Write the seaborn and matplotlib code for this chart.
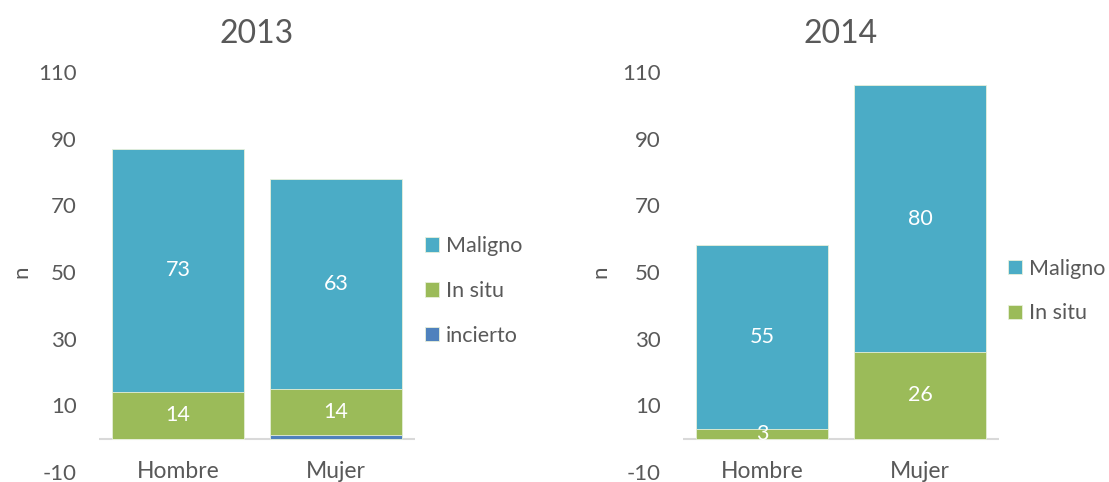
import matplotlib.pyplot as plt
import pandas as pd
import seaborn as sns

sexos = ["Hombre", "Mujer"]

incierto_2013 = [0, 1]
in_situ_2013 = [14, 14]
maligno_2013 = [73, 63]

in_situ_2014 = [3, 26]
maligno_2014 = [55, 80]

yticks = [-10, 10, 30, 50, 70, 90, 110]

COLORS = {"Maligno": "#4BACC6", "In situ": "#9BBB59", "incierto": "#4F81BD"}
TEXT = "#595959"

sns.set_theme(style="white")
plt.rcParams["font.family"] = ["Lato", "DejaVu Sans"]
plt.rcParams["axes.unicode_minus"] = False


def stacked(ax, title, series, legend_pos, ylabel_x):
    # series: list of (name, values) from bottom to top
    df = pd.DataFrame({"sexo": sexos})
    cum = [0] * len(sexos)
    bottoms = {}
    for name, vals in series:
        bottoms[name] = list(cum)
        cum = [c + v for c, v in zip(cum, vals)]
        df[name] = cum

    # draw the tallest stack first so lower segments sit on top
    for name, vals in reversed(series):
        sns.barplot(data=df, x="sexo", y=name, color=COLORS[name],
                    width=0.835, saturation=1, ax=ax, label=name,
                    edgecolor="#E8F0DA", linewidth=0.6)

    for name, vals in series:
        if name == "incierto":
            continue
        for i, v in enumerate(vals):
            ax.text(i, bottoms[name][i] + v / 2, str(v), ha="center", va="center",
                    color="white", fontsize=15.5)

    ax.set_ylim(-10, 110)
    ax.set_xlim(-0.5, 1.5)
    ax.set_yticks(yticks)
    ax.axhline(0, color="#D9D9D9", lw=1.5, zorder=0.5)
    for s in ax.spines.values():
        s.set_visible(False)
    ax.spines["bottom"].set_position(("data", 0))
    ax.tick_params(axis="both", length=0, colors=TEXT)
    ax.tick_params(axis="x", pad=16, labelsize=16.5)
    ax.tick_params(axis="y", pad=16, labelsize=16)
    ax.set_xlabel("")
    ax.set_ylabel("n", color=TEXT, fontsize=16, va="center")
    ax.yaxis.set_label_coords(ylabel_x, 0.5)
    ax.set_title(title, color=TEXT, fontsize=23, pad=21)

    handles, labels = ax.get_legend_handles_labels()
    order = [n for n, _ in reversed(series)]
    hmap = dict(zip(labels, handles))
    ax.legend([hmap[n] for n in order], order, loc="center left",
              bbox_to_anchor=legend_pos, bbox_transform=ax.figure.transFigure,
              frameon=False, fontsize=15.5, labelcolor=TEXT,
              handlelength=0.65, handleheight=0.65, handletextpad=0.3,
              labelspacing=1.15)


fig = plt.figure(figsize=(11.09, 4.82), dpi=100)
ax1 = fig.add_axes([99 / 1109, 10 / 482, 316 / 1109, 400 / 482])
ax2 = fig.add_axes([683 / 1109, 10 / 482, 316 / 1109, 400 / 482])

stacked(ax1, "2013",
        [("incierto", incierto_2013), ("In situ", in_situ_2013), ("Maligno", maligno_2013)],
        (406 / 1109, 1 - 291 / 482), -0.247)
stacked(ax2, "2014",
        [("In situ", in_situ_2014), ("Maligno", maligno_2014)],
        (989 / 1109, 1 - 291 / 482), -0.26)

fig.savefig("out.png", dpi=100)
